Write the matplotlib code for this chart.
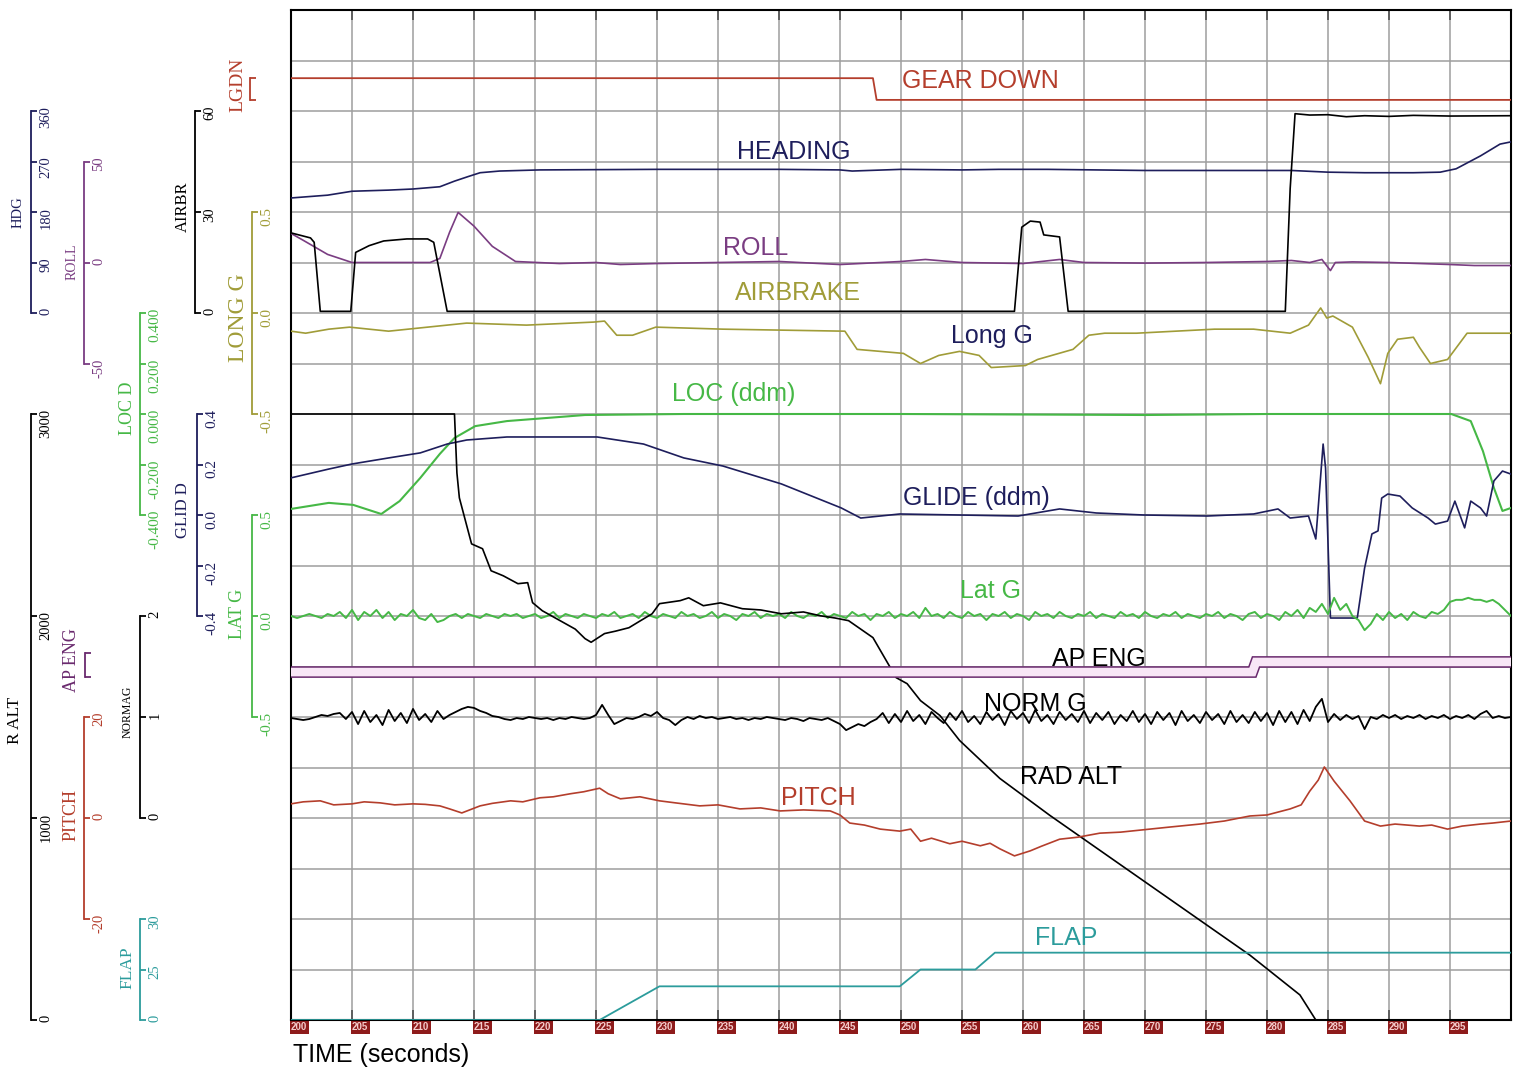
import matplotlib

matplotlib.use("Agg")
import matplotlib.pyplot as plt
import matplotlib.patheffects as pe
import numpy as np

plt.rcParams["font.family"] = ["Liberation Sans", "DejaVu Sans"]

W, H = 1517, 1072
AX_L, AX_R, AX_T, AX_B = 291, 1511, 10, 1020
N_ROWS = 20
SERIF = "Liberation Serif"

NAVY = "#1e1e5c"
PURPLE = "#7a3d82"
AP_PURPLE = "#6a2a6e"
OLIVE = "#a09c38"
GREEN = "#46b846"
RED = "#b43e2c"
TEAL = "#2c9c9c"
BLACK = "#000000"

# ---- recorded parameters (time in s, engineering units) ----
gear_t = [200, 247.7, 248.0, 300]
gear_v = [1, 1, 0, 0]

hdg_t = [200, 203, 205, 208, 210, 212.2, 213.4, 214.5, 215.5, 217.1, 220.4, 230, 240, 245, 246,
         250, 255, 258, 262, 266, 270, 275, 279, 282, 285, 288, 292, 294.2, 295.5, 297.5, 299.1, 300]
hdg_v = [205, 210, 217, 219, 221, 225, 235, 243, 250, 253, 255, 256, 256, 255, 253,
         256, 255, 256, 256, 255, 254, 254, 254, 254, 251, 250, 250, 251, 257, 280, 301, 305]

roll_t = [200, 201, 203, 205, 208, 211.4, 212.2, 213, 213.7, 215, 216.5, 218.4, 222, 225, 227,
          230, 235, 240, 245, 250, 252, 255, 260, 263, 265, 270, 275, 280, 282, 283.5,
          284.5, 285.2, 285.6, 287, 290, 295, 297, 300]
roll_v = [14.4, 11, 4, 0, 0, 0, 2, 15, 24.8, 18, 8, 0.5, -0.5, 0, -1,
          -0.5, 0, 0.5, -1, 0.5, 1.5, 0, -0.5, 1.5, 0, -0.3, 0, 0.5, 1, 0,
          1.5, -4, 0, 0.3, 0, -1, -1.5, -1.5]

airbr_t = [200.0, 201.6, 201.9, 202.4, 204.9, 205.3, 206.4, 207.6, 209.5, 211.2, 211.7, 212.8,
           259.3, 259.9, 260.6, 261.4, 261.7, 263.0, 263.7, 281.5, 281.9, 282.3, 283.5, 285,
           286.5, 288, 290, 292, 295, 300]
airbr_v = [23.8, 22.3, 21, 0.5, 0.5, 18, 20, 21.4, 22, 22, 21, 0.5,
           0.5, 25.5, 27.3, 27, 23.2, 22.6, 0.5, 0.5, 37, 59.2, 58.8, 58.9,
           58.3, 58.6, 58.4, 58.7, 58.5, 58.6]

longg_t = [200.0, 201.2, 203.1, 204.8, 208.0, 209.6, 214.4, 219.3, 224.8, 225.7, 226.7, 228.0,
           229.9, 235.4, 245.4, 246.4, 248.3, 250.2, 251.6, 253.1, 254.8, 256.4, 257.4, 260.2,
           261.2, 264.1, 265.4, 266.7, 269.3, 272.5, 275.7, 278.9, 281.9, 283.4, 284.4, 284.9,
           285.4, 287.0, 288.3, 289.3, 289.9, 290.7, 292.0, 292.5, 293.4, 294.8, 296.4, 300]
longg_v = [-0.09, -0.10, -0.08, -0.07, -0.09, -0.08, -0.05, -0.06, -0.045, -0.04, -0.11, -0.11,
           -0.07, -0.08, -0.09, -0.18, -0.19, -0.20, -0.25, -0.21, -0.19, -0.21, -0.27, -0.26,
           -0.23, -0.18, -0.11, -0.10, -0.10, -0.09, -0.08, -0.08, -0.10, -0.06, 0.025, -0.025,
           -0.015, -0.07, -0.22, -0.35, -0.20, -0.13, -0.12, -0.17, -0.25, -0.23, -0.10, -0.10]

loc_t = [200.0, 203.1, 205.1, 207.4, 208.9, 210.6, 212.2, 213.4, 215.1, 217.7, 220.9, 224.1,
         232.2, 250, 260, 270, 280, 295.1, 296.7, 297.7, 298.6, 299.3, 300]
loc_v = [-0.376, -0.352, -0.36, -0.396, -0.345, -0.253, -0.158, -0.095, -0.048, -0.028, -0.016,
         -0.004, 0.0, 0.0, -0.002, -0.004, 0.0, 0.0, -0.028, -0.147, -0.293, -0.384, -0.372]

glide_t = [200.0, 203.1, 205.0, 208.0, 210.6, 212.8, 214.4, 217.7, 225.1, 228.9, 232.2, 235.4,
           240.2, 245.1, 246.7, 249.9, 259.6, 263.0, 266.0, 269.9, 275.1, 278.9, 280.9, 281.9,
           283.4, 284.0, 284.6, 284.8, 285.2, 286.1, 287.4, 288.0, 288.6, 289.1, 289.4, 289.9,
           290.9, 291.9, 293.2, 293.8, 294.8, 295.4, 296.2, 296.7, 297.5, 298.0, 298.6, 299.3, 300]
glide_v = [0.147, 0.182, 0.202, 0.226, 0.246, 0.281, 0.297, 0.309, 0.309, 0.281, 0.226, 0.194,
           0.123, 0.028, -0.012, 0.004, -0.004, 0.024, 0.008, 0.0, -0.004, 0.004, 0.024, -0.012,
           -0.004, -0.095, 0.281, 0.186, -0.408, -0.408, -0.408, -0.21, -0.075, -0.063, 0.067, 0.083,
           0.075, 0.028, -0.012, -0.036, -0.024, 0.055, -0.051, 0.055, 0.028, -0.004, 0.135, 0.174, 0.162]

ralt_t = [200, 213.4, 213.6, 213.8, 214.8, 215.7, 216.4, 217.4, 218.6, 219.4, 219.8, 220.6, 222.5,
          223.3, 224.1, 224.6, 225.7, 226.6, 227.7, 228.6, 229.6, 230.2, 231.9, 232.6, 233.8, 235.2,
          237.0, 238.5, 240.2, 242.0, 243.4, 244.6, 245.7, 247.7, 249.6, 250.5, 251.6, 253.2, 254.8,
          258.1, 262.2, 266.3, 270.4, 274.5, 278.6, 282.7, 284.0]
ralt_v = [3000, 3000, 2708, 2585, 2357, 2333, 2224, 2199, 2160, 2165, 2066, 2026, 1962,
          1935, 1888, 1870, 1913, 1925, 1942, 1975, 2011, 2061, 2076, 2090, 2051, 2065,
          2036, 2030, 2011, 2020, 2001, 1990, 1977, 1893, 1695, 1665, 1581, 1507, 1384,
          1196, 1013, 840, 667, 494, 321, 124, 0]

# sampled every 0.5 s from 200 s to 300 s
fast_t = np.linspace(200, 300, 201)
latg_v = [0.00, -0.01, 0.00, 0.01, 0.00, -0.01, 0.01, 0.00, 0.02, -0.01,
          0.03, -0.02, 0.02, 0.00, 0.03, -0.01, 0.02, -0.02, 0.01, 0.00,
          0.03, -0.01, -0.02, 0.01, -0.03, -0.02, 0.00, 0.01, -0.01, 0.01,
          0.00, -0.01, 0.01, 0.00, -0.01, 0.01, 0.00, 0.01, -0.01, 0.00,
          0.01, -0.01, 0.00, 0.02, -0.01, 0.01, 0.00, -0.01, 0.01, 0.00,
          -0.01, 0.01, 0.00, 0.02, -0.01, 0.00, 0.01, -0.01, 0.02, 0.00,
          -0.01, 0.01, 0.00, -0.01, 0.02, 0.00, 0.01, -0.01, 0.00, 0.02,
          -0.01, 0.01, 0.00, -0.02, 0.01, 0.00, 0.02, -0.01, 0.01, 0.00,
          0.01, -0.01, 0.02, 0.00, -0.01, 0.01, 0.00, 0.02, -0.01, 0.01,
          0.00, -0.01, 0.02, 0.00, 0.01, -0.02, 0.01, 0.00, 0.02, -0.01,
          0.01, 0.00, 0.02, -0.01, 0.04, 0.00, 0.01, -0.01, 0.02, 0.00,
          -0.01, 0.02, 0.00, 0.01, -0.02, 0.01, 0.00, 0.02, -0.01, 0.01,
          0.00, -0.02, 0.02, 0.00, 0.01, -0.01, 0.02, 0.00, -0.01, 0.01,
          0.00, 0.02, -0.01, 0.01, 0.00, -0.01, 0.02, 0.00, 0.01, -0.01,
          0.02, 0.00, -0.01, 0.01, 0.00, 0.02, -0.01, 0.01, 0.00, -0.01,
          0.01, 0.00, 0.02, -0.01, 0.01, 0.00, -0.02, 0.01, 0.02, -0.01,
          0.01, 0.00, -0.02, 0.02, 0.00, 0.03, -0.01, 0.04, 0.02, 0.06,
          0.01, 0.09, 0.03, 0.06, 0.00, -0.02, -0.07, -0.04, 0.01, -0.02,
          0.02, -0.01, 0.01, -0.02, 0.02, 0.00, -0.01, 0.02, 0.01, 0.03,
          0.07, 0.08, 0.08, 0.09, 0.08, 0.08, 0.07, 0.08, 0.06, 0.03,
          0.00]
normg_v = [0.99, 0.98, 0.97, 0.98, 1.00, 1.02, 1.01, 1.03, 1.04, 0.98,
           1.05, 0.93, 1.06, 0.95, 1.02, 0.92, 1.07, 0.96, 1.04, 0.94,
           1.08, 0.97, 1.03, 0.95, 1.06, 0.98, 1.02, 1.05, 1.08, 1.10,
           1.09, 1.06, 1.04, 1.01, 1.00, 0.98, 0.97, 0.99, 0.98, 1.00,
           0.99, 0.98, 0.99, 0.97, 0.99, 0.98, 1.00, 0.99, 0.98, 0.99,
           1.02, 1.12, 1.02, 0.93, 0.96, 0.99, 0.98, 1.00, 1.03, 1.01,
           1.05, 0.99, 0.97, 0.92, 0.97, 1.00, 0.98, 1.01, 0.99, 1.00,
           0.98, 0.99, 1.00, 0.98, 0.99, 0.97, 0.99, 0.98, 1.00, 0.99,
           0.98, 0.97, 0.99, 0.98, 0.96, 0.99, 0.98, 0.97, 0.99, 0.96,
           0.93, 0.87, 0.90, 0.93, 0.91, 0.95, 0.98, 1.04, 0.94, 1.03,
           0.95, 1.06, 0.96, 1.02, 0.93, 1.05, 0.99, 0.94, 1.04, 0.97,
           1.06, 0.95, 1.01, 0.93, 1.05, 0.97, 1.03, 0.92, 1.06, 0.98,
           1.04, 0.94, 1.07, 0.96, 1.02, 0.93, 1.05, 0.97, 1.03, 0.95,
           1.06, 0.94, 1.04, 0.97, 1.05, 0.93, 1.02, 0.96, 1.06, 0.95,
           1.03, 0.93, 1.05, 0.97, 1.04, 0.92, 1.06, 0.96, 1.02, 0.94,
           1.05, 0.97, 1.03, 0.93, 1.06, 0.95, 1.02, 0.94, 1.05, 0.96,
           1.04, 0.92, 1.06, 0.95, 1.05, 0.93, 1.07, 0.96, 1.10, 1.18,
           0.95, 1.03, 0.97, 1.02, 0.98, 1.01, 0.88, 1.00, 0.98, 1.02,
           0.99, 1.02, 0.98, 1.01, 0.99, 1.02, 0.98, 1.01, 0.99, 1.02,
           0.98, 1.01, 0.99, 1.02, 0.98, 1.03, 1.06, 0.99, 1.01, 0.99,
           1.00]

ap_t = [200, 278.8, 279.1, 300]
ap_v = [0, 0, 1, 1]

pitch_t = [200, 201, 202.4, 203.5, 205, 206, 207.3, 208.5, 210, 211, 212.2, 213, 214, 215.5, 216.5,
           218, 219, 220.4, 221.5, 222.9, 224, 225.3, 226, 227, 228.6, 230.2, 231.5, 233.5, 235, 236.8,
           238.5, 240.1, 242, 244.2, 245, 245.8, 247, 248.3, 249.9, 250.8, 251.6, 252.5, 254, 255,
           256.5, 257.3, 258.1, 259.3, 260.6, 261.5, 263, 264.5, 266.3, 268, 270.4, 272, 274.5, 276.5,
           278.6, 280, 281.9, 282.8, 283.5, 284.2, 284.7, 285.5, 286.8, 288, 289.3, 290.5, 292.5, 293.5,
           294.8, 296, 297.5, 298.5, 300]
pitch_v = [2.8, 3.2, 3.4, 2.6, 2.8, 3.2, 3.0, 2.6, 2.8, 2.7, 2.4, 1.8, 1.0, 2.4, 2.9,
           3.4, 3.2, 4.0, 4.2, 4.8, 5.2, 5.9, 4.8, 3.8, 4.2, 3.4, 3.0, 2.4, 2.6, 1.8,
           2.0, 1.4, 1.6, 1.4, 0.6, -1.0, -1.4, -2.2, -2.6, -2.2, -4.6, -4.0, -5.1, -4.6,
           -5.5, -5.0, -6.1, -7.5, -6.5, -5.6, -4.2, -3.8, -3.0, -2.8, -2.2, -1.8, -1.2, -0.6,
           0.4, 0.6, 1.8, 2.6, 5.3, 7.5, 10.1, 7.3, 3.4, -0.6, -1.6, -1.2, -1.6, -1.4,
           -2.2, -1.6, -1.2, -1.0, -0.6]

flap_t = [200, 225.3, 230.2, 249.9, 251.6, 256.1, 257.7, 300]
flap_v = [0, 0, 10, 10, 15, 15, 20, 20]

time_ticks = list(range(200, 301, 5))


fig = plt.figure(figsize=(W / 100, H / 100), dpi=100)
ax = fig.add_axes([AX_L / W, (H - AX_B) / H, (AX_R - AX_L) / W, (AX_B - AX_T) / H])
ax.set_xlim(200, 300)
ax.set_ylim(0, N_ROWS)


def scale(lo, row_lo, hi, row_hi):
    """twin axis where value lo sits on grid row row_lo and hi on row_hi"""
    tw = ax.twinx()
    k = (hi - lo) / (row_hi - row_lo)
    for s in tw.spines.values():
        s.set_visible(False)
    tw.set_yticks([])
    tw.set_ylim(lo - row_lo * k, lo + (N_ROWS - row_lo) * k)
    return tw


def bar(tw, x_px, lo, hi, ticks, labels, color, size=10.5):
    sp = tw.spines["right"]
    sp.set_visible(True)
    sp.set_position(("axes", (x_px - AX_L) / (AX_R - AX_L)))
    sp.set_bounds(lo, hi)
    sp.set_color(color)
    sp.set_linewidth(1.3)
    tw.set_yticks(ticks)
    tw.set_yticklabels(labels, fontfamily=SERIF)
    tw.tick_params(axis="y", direction="out", length=4.5, width=1.3, color=color,
                   labelcolor=color, labelsize=size, pad=1.5, labelrotation=90)


def name(text, x, y, color, size):
    fig.text(x / W, 1 - y / H, text, rotation=90, ha="center", va="center",
             color=color, fontsize=size, fontfamily=SERIF)


def label(text, x, y, color, size=18):
    fig.text(x / W, 1 - y / H, text, ha="left", va="center", color=color, fontsize=size)


# gear down (discrete)
tw = scale(0, 18.22, 1, 18.65)
tw.plot(gear_t, gear_v, color=RED, lw=1.3)
bar(tw, 250, 0, 1, [0, 1], ["", ""], RED)
tw.set_ylim(0 - 18.22 / 0.43, 0 + (N_ROWS - 18.22) / 0.43)
name("LGDN", 238, 85, RED, 14)

# heading
tw = scale(0, 14, 360, 18)
tw.plot(hdg_t, hdg_v, color=NAVY, lw=1.2)
bar(tw, 31, 0, 360, [0, 90, 180, 270, 360], ["0", "90", "180", "270", "360"], NAVY)
name("HDG", 18, 212, NAVY, 10.5)

# roll
tw = scale(-50, 13, 50, 17)
tw.plot(roll_t, roll_v, color=PURPLE, lw=1.2)
bar(tw, 84, -50, 50, [-50, 0, 50], ["-50", "0", "50"], PURPLE)
name("ROLL", 72, 262, PURPLE, 10)

# airbrake
tw = scale(0, 14, 60, 18)
tw.plot(airbr_t, airbr_v, color=BLACK, lw=1.2)
bar(tw, 195, 0, 60, [0, 30, 60], ["0", "30", "60"], BLACK)
name("AIRBR", 183, 207, BLACK, 12)

# longitudinal g
tw = scale(-0.5, 12, 0.5, 16)
tw.plot(longg_t, longg_v, color=OLIVE, lw=1.2)
bar(tw, 252, -0.5, 0.5, [-0.5, 0, 0.5], ["-0.5", "0.0", "0.5"], OLIVE, 11)
name("LONG G", 238, 318, OLIVE, 17)

# localiser
tw = scale(-0.4, 10, 0.4, 14)
tw.plot(loc_t, loc_v, color=GREEN, lw=1.5)
bar(tw, 140, -0.4, 0.4, [-0.4, -0.2, 0, 0.2, 0.4],
    ["-0.400", "-0.200", "0.000", "0.200", "0.400"], GREEN, 11)
name("LOC D", 127, 408, GREEN, 13)

# glideslope
tw = scale(-0.4, 8, 0.4, 12)
tw.plot(glide_t, glide_v, color=NAVY, lw=1.2)
bar(tw, 197, -0.4, 0.4, [-0.4, -0.2, 0, 0.2, 0.4],
    ["-0.4", "-0.2", "0.0", "0.2", "0.4"], NAVY, 11)
name("GLID D", 183, 510, NAVY, 12)

# lateral g
tw = scale(-0.5, 6, 0.5, 10)
tw.plot(fast_t, latg_v, color=GREEN, lw=1.4)
bar(tw, 252, -0.5, 0.5, [-0.5, 0, 0.5], ["-0.5", "0.0", "0.5"], GREEN, 11)
name("LAT G", 237, 614, GREEN, 13)

# radio altitude
tw = scale(0, 0, 3000, 12)
tw.plot(ralt_t, ralt_v, color=BLACK, lw=1.2)
bar(tw, 31, 0, 3000, [0, 1000, 2000, 3000], ["0", "1000", "2000", "3000"], BLACK)
name("R ALT", 15, 720, BLACK, 12.5)

# autopilot engaged (discrete, drawn as an outlined band)
tw = scale(0, 6.89, 1, 7.09)
tw.plot(ap_t, ap_v, color="#f8e6f6", lw=6.2, solid_capstyle="butt", solid_joinstyle="miter",
        path_effects=[pe.Stroke(linewidth=8.4, foreground=AP_PURPLE), pe.Normal()])
bar(tw, 85, -0.5, 1.9, [-0.5, 1.9], ["", ""], AP_PURPLE)
name("AP ENG", 72, 660, AP_PURPLE, 13)

# normal g
tw = scale(0, 4, 2, 8)
tw.plot(fast_t, normg_v, color=BLACK, lw=1.3)
bar(tw, 140, 0, 2, [0, 1, 2], ["0", "1", "2"], BLACK)
name("NORMAG", 128, 712, BLACK, 8.5)

# pitch
tw = scale(-20, 2, 20, 6)
tw.plot(pitch_t, pitch_v, color=RED, lw=1.2)
bar(tw, 84, -20, 20, [-20, 0, 20], ["-20", "0", "20"], RED)
name("PITCH", 71, 815, RED, 13)

# flap
tw = scale(0, 0, 30, 2)
tw.plot(flap_t, flap_v, color=TEAL, lw=1.3)
bar(tw, 140, 0, 30, [0, 15, 30], ["0", "25", "30"], TEAL)
name("FLAP", 127, 968, TEAL, 12.5)

# grid, frame and time axis
ax.set_xlim(200, 300)
ax.set_xticks(time_ticks)
ax.set_xticklabels([str(t) for t in time_ticks[:-1]] + [""])
ax.set_yticks(range(N_ROWS + 1))
ax.grid(True, color="#9e9e9e", lw=1.1)
ax.tick_params(axis="y", left=False, right=False, labelleft=False)
ax.tick_params(axis="x", direction="in", length=7, width=1.2, color="#505050", top=True,
               pad=1.5, labelsize=7, labelcolor="#f5cccc")
for t in ax.get_xticklabels():
    t.set_horizontalalignment("left")
    t.set_fontweight("bold")
    t.set_bbox(dict(boxstyle="square,pad=0.15", fc="#8e1b1b", ec="none"))
for s in ax.spines.values():
    s.set_color("black")
    s.set_linewidth(1.5)

label("GEAR DOWN", 902, 81, RED)
label("HEADING", 737, 152, NAVY)
label("ROLL", 723, 248, PURPLE)
label("AIRBRAKE", 735, 293, OLIVE)
label("Long G", 951, 336, NAVY)
label("LOC (ddm)", 672, 394, GREEN)
label("GLIDE (ddm)", 903, 498, NAVY)
label("Lat G", 960, 591, GREEN)
label("AP ENG", 1052, 659, BLACK)
label("NORM G", 984, 704, BLACK)
label("RAD ALT", 1020, 777, BLACK)
label("PITCH", 781, 798, RED)
label("FLAP", 1035, 938, TEAL)
label("TIME (seconds)", 293, 1055, BLACK)

fig.savefig("out.png", dpi=100)
